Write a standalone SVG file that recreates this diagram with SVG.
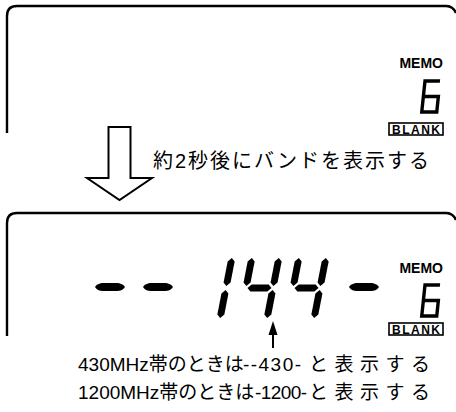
<svg xmlns="http://www.w3.org/2000/svg" width="456" height="412" viewBox="0 0 456 412">
<style>
.frame{fill:none;stroke:#000;stroke-width:2.4}
.seg{fill:#000}
.d6{fill:none;stroke:#000;stroke-width:3.4;stroke-linejoin:miter}
.memo{font-family:"Liberation Sans",Arial,sans-serif;font-weight:bold;font-size:14px;fill:#000}
.blank{font-family:"Liberation Sans",Arial,sans-serif;font-weight:bold;font-size:12px;fill:#000}
.bbox{fill:none;stroke:#000;stroke-width:1.6}
.jp{font-family:"Liberation Sans","Noto Sans CJK JP",sans-serif;font-size:19px;fill:#000}
</style>
<defs>
<path id="vsegU" d="M0,-30 L3.5,-26.5 L3.5,-5.5 L0,-2 L-3.5,-5.5 L-3.5,-26.5 Z"/>
<path id="vsegL" d="M0,2 L3.5,5.5 L3.5,26.5 L0,30 L-3.5,26.5 L-3.5,5.5 Z"/>
<path id="hseg" d="M-25.5,0 L-22,-3.5 L-5,-3.5 L-1.5,0 L-5,3.5 L-22,3.5 Z"/>
<path id="dash" d="M0,0 C3,-4.5 7,-4 15,-4 C23,-4 27,-4.5 30,0 C27,4.5 23,4 15,4 C7,4 3,4.5 0,0 Z"/>
<path id="six" d="M15,0 H0 V31 H15 V15.5 H0"/>
</defs>

<g id="panel-top">
<path class="frame" d="M7,133 V16 Q7,6 17,6 H446 Q453,6 456,13"/>
<text class="memo" x="443" y="68" text-anchor="end">MEMO</text>
<use href="#six" class="d6" transform="translate(425,81) skewX(-6)"/>
<rect class="bbox" x="389" y="123" width="54" height="12"/>
<text class="blank" x="392" y="133.5" textLength="48" lengthAdjust="spacing">BLANK</text>
</g>

<g id="panel-bottom">
<path class="frame" d="M7,336 V223 Q7,213 17,213 H446 Q453,213 456,220"/>
<g id="lcd-dashes" class="seg">
<use href="#dash" x="95" y="287"/>
<use href="#dash" x="143" y="287"/>
<use href="#dash" x="349" y="287"/>
</g>
<g id="lcd-144" class="seg" transform="translate(0,288) skewX(-11)">
<g transform="translate(226,0)"><use href="#vsegU"/><use href="#vsegL"/></g>
<g transform="translate(273,0)">
<use href="#vsegU" x="-27"/><use href="#vsegU"/><use href="#vsegL"/><use href="#hseg"/>
</g>
<g transform="translate(320,0)">
<use href="#vsegU" x="-27"/><use href="#vsegU"/><use href="#vsegL"/><use href="#hseg"/>
</g>
</g>
<text class="memo" x="443" y="273" text-anchor="end">MEMO</text>
<use href="#six" class="d6" transform="translate(425,285) skewX(-6)"/>
<rect class="bbox" x="389" y="323" width="54" height="12"/>
<text class="blank" x="392" y="333.5" textLength="48" lengthAdjust="spacing">BLANK</text>
</g>

<g id="connectors">
<polygon points="108.5,127 130.5,127 130.5,178 152,178 119.5,200 87,178 108.5,178" fill="#fff" stroke="#000" stroke-width="2"/>
<line x1="273" y1="333" x2="273" y2="348" stroke="#000" stroke-width="2"/>
<polygon points="273,321 268.5,335 277.5,335" fill="#000"/>
</g>

<g id="labels">
<text class="jp" x="153" y="168" style="font-size:20px" textLength="276" lengthAdjust="spacing">約2秒後にバンドを表示する</text>
<text class="jp" y="371"><tspan x="78">430MHz帯のときは</tspan><tspan x="243" textLength="58" lengthAdjust="spacing">--430-</tspan><tspan x="309" textLength="121" lengthAdjust="spacing">と表示する</tspan></text>
<text class="jp" y="399"><tspan x="78">1200MHz帯のときは</tspan><tspan x="255" textLength="52" lengthAdjust="spacing">-1200-</tspan><tspan x="309" textLength="121" lengthAdjust="spacing">と表示する</tspan></text>
</g>
</svg>
